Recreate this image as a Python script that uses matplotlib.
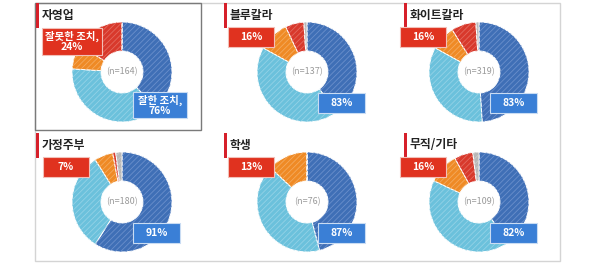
import matplotlib
matplotlib.use('Agg')
import matplotlib.pyplot as plt
from matplotlib.patches import Rectangle

plt.rcParams['font.family'] = ['Noto Sans CJK KR', 'DejaVu Sans']
plt.rcParams['hatch.linewidth'] = 0.6

# 직업별 평가 (%)
groups = ['자영업', '블루칼라', '화이트칼라', '가정주부', '학생', '무직/기타']
n_sizes = [164, 137, 319, 180, 76, 109]
very_good = [38, 40, 49, 59, 46, 40]
fairly_good = [38, 43, 34, 32, 41, 42]
fairly_bad = [8, 10, 8, 6, 13, 10]
very_bad = [16, 6, 8, 1, 0, 6]
dont_know = [0, 1, 1, 2, 0, 2]
good_total = [76, 83, 83, 91, 87, 82]
bad_total = [24, 16, 16, 7, 13, 16]

colors = ['#3f6fb6', '#6bc1dc', '#ef8a25', '#d8392c', '#b8b8b8']
hatch_colors = ['#6a8fcb', '#93d2e6', '#f4aa5e', '#e46a5f', '#cdcdcd']

W, H = 600, 265
fig = plt.figure(figsize=(W / 100, H / 100), dpi=100)


def fx(x):
    return x / W


def fy(y):
    return 1 - y / H


def box(x0, y0, x1, y1, fc, ec, lw=0.8, z=1):
    fig.patches.append(Rectangle((fx(x0), fy(y1)), fx(x1) - fx(x0), fy(y0) - fy(y1),
                                 transform=fig.transFigure, facecolor=fc,
                                 edgecolor=ec, linewidth=lw, zorder=z))


# frames
box(35, 3, 560, 261, 'none', '#d4d4d4', lw=1.0)
box(35, 3, 201, 130, 'none', '#7a7a7a', lw=1.0, z=3)

cols = [122, 307, 479]
rows = [72, 202]
title_x = [36, 224, 404]
R = 50

for i, g in enumerate(groups):
    cx = cols[i % 3]
    cy = rows[i // 3]
    tx = title_x[i % 3]
    vals = [very_good[i], fairly_good[i], fairly_bad[i], very_bad[i], dont_know[i]]
    ax = fig.add_axes([fx(cx - R), fy(cy + R), 2 * R / W, 2 * R / H])
    ax.pie(vals, colors=colors, startangle=90, counterclock=False,
           wedgeprops=dict(width=0.58, edgecolor='white', linewidth=0.7))
    wedges, _ = ax.pie(vals, colors=['none'] * 5, startangle=90, counterclock=False,
                       wedgeprops=dict(width=0.58, linewidth=0))
    for w, hc in zip(wedges, hatch_colors):
        w.set_hatch('//////')
        w.set_edgecolor(hc)
        w.set_linewidth(0)
    ax.set_xlim(-1, 1)
    ax.set_ylim(-1, 1)
    ax.set_aspect('equal')
    ax.axis('off')
    ax.text(0, 0, f'(n={n_sizes[i]})', ha='center', va='center',
            fontsize=6.5, color='#9a9a9a')

    # title with red marker
    box(tx, cy - 69, tx + 2.5, cy - 44, '#d6202a', 'none', lw=0, z=4)
    fig.text(fx(tx + 6), fy(cy - 57), g, ha='left', va='center',
             fontsize=8.5, fontweight='bold', color='#222222')

    # labels
    if i == 0:
        rb = (42, 28, 102, 55)
        bb = (133, 92, 187, 118)
        rtxt = f'잘못한 조치,\n{bad_total[i]}%'
        btxt = f'잘한 조치,\n{good_total[i]}%'
    else:
        rb = (cx - 79, cy - 45, cx - 33, cy - 25)
        bb = (cx + 11, cy + 21, cx + 58, cy + 41)
        rtxt = f'{bad_total[i]}%'
        btxt = f'{good_total[i]}%'
    box(*rb, '#e0321f', '#f2c0b8', lw=0.8, z=5)
    box(*bb, '#3a7fd6', '#c9dcf3', lw=0.8, z=5)
    fig.text(fx((rb[0] + rb[2]) / 2), fy((rb[1] + rb[3]) / 2), rtxt, ha='center',
             va='center', fontsize=7.5, fontweight='bold', color='white',
             linespacing=1.0, zorder=6)
    fig.text(fx((bb[0] + bb[2]) / 2), fy((bb[1] + bb[3]) / 2), btxt, ha='center',
             va='center', fontsize=7.5, fontweight='bold', color='white',
             linespacing=1.0, zorder=6)

fig.savefig('out.png', dpi=100)
